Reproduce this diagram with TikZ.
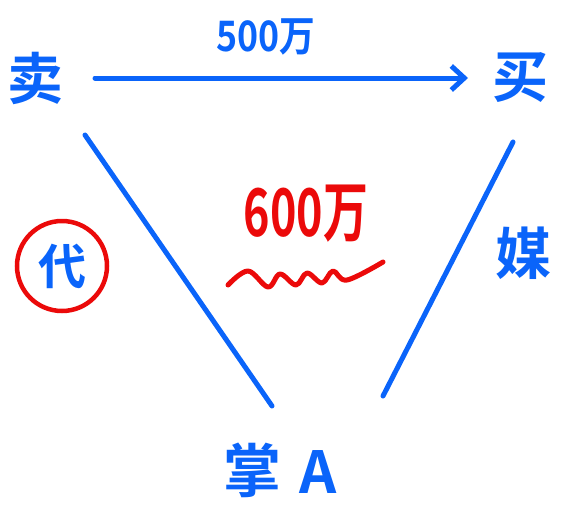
\documentclass[tikz,border=0pt]{standalone}
\usepackage{fontspec}
\newfontfamily\cjk{Noto Sans CJK SC}[BoldFont={Noto Sans CJK SC Bold}]
\usetikzlibrary{arrows.meta}
\definecolor{penblue}{RGB}{10,100,250}
\definecolor{penred}{RGB}{235,10,10}
\tikzset{
  hand/.style={font=\cjk\bfseries, text=penblue, inner sep=0pt},
  stroke/.style={draw=penblue, line width=5pt, line cap=round},
  redstroke/.style={draw=penred, line width=5pt, line cap=round, line join=round}
}
\begin{document}
\begin{tikzpicture}[x=1pt,y=-1pt]
\useasboundingbox (0,0) rectangle (561,517);
\node[hand, font=\cjk\bfseries\fontsize{56}{56}\selectfont] (sell) at (36,78) {卖};
\node[hand, font=\cjk\bfseries\fontsize{56}{56}\selectfont] (buy) at (520,78) {买};
\node[hand, font=\cjk\bfseries\fontsize{56}{56}\selectfont] (media) at (523,253) {媒};
\node[hand, font=\cjk\bfseries\fontsize{58}{58}\selectfont] (hold) at (252,470) {掌};
\node[hand, font=\cjk\bfseries\fontsize{58}{58}\selectfont] (holdA) at (318,472) {A};
\node[hand, xscale=0.85, font=\cjk\bfseries\fontsize{42}{42}\selectfont] (p500) at (266,37) {500万};
\node[hand, xscale=0.68, text=penred, font=\cjk\bfseries\fontsize{66}{66}\selectfont] (p600) at (306,214) {600万};
\node[hand, font=\cjk\bfseries\fontsize{48}{48}\selectfont] (agent) at (62,266) {代};
\draw[draw=penred, line width=4.5pt] (agent) circle (45);
\coordinate (a1) at (95,78);
\coordinate (a2) at (468,78);
\draw[stroke, -{Straight Barb[length=13pt,width=24pt,line width=5pt]}] (a1) -- (a2);
\coordinate (l1) at (85,135);
\coordinate (l2) at (272,406);
\draw[stroke] (l1) -- (l2);
\coordinate (r1) at (513,142);
\coordinate (r2) at (383,396);
\draw[stroke] (r1) -- (r2);
\draw[redstroke] plot[smooth, tension=0.6] coordinates {(228,285) (248,271) (268,287) (280,274) (296,285) (307,273) (322,283) (333,271) (347,280) (383,262)};
\end{tikzpicture}
\end{document}
